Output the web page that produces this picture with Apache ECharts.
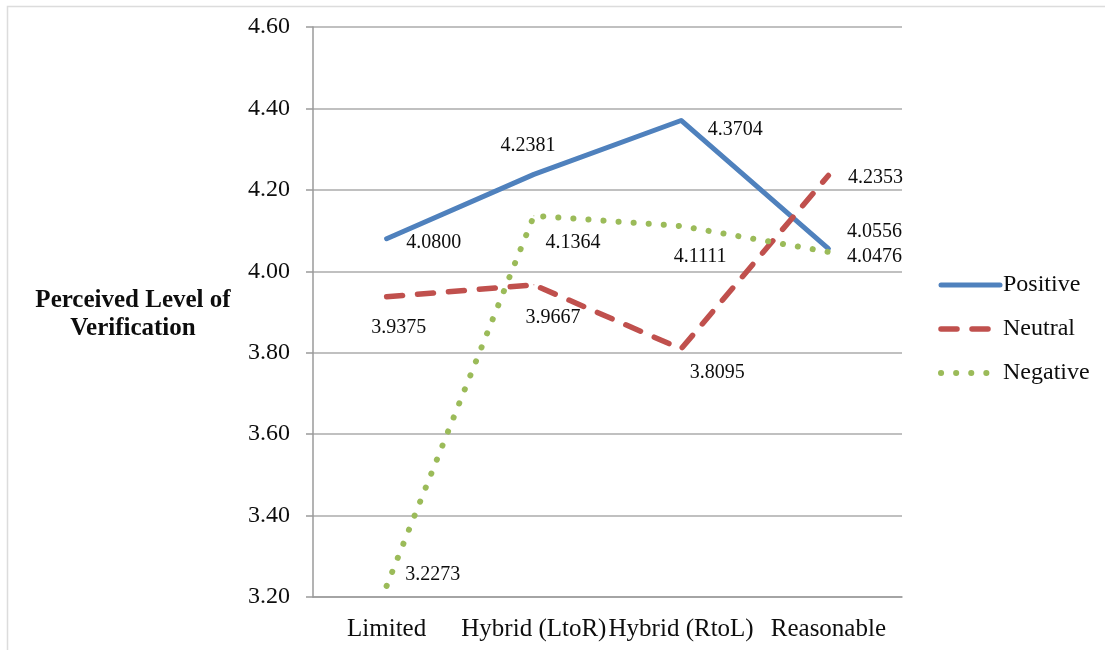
<!DOCTYPE html>
<html>
<head>
<meta charset="utf-8">
<script src="https://cdn.jsdelivr.net/npm/echarts@6/dist/echarts.min.js"></script>
<style>
  html, body { margin: 0; padding: 0; background: #ffffff; }
  #chart { width: 1105px; height: 650px; }
</style>
</head>
<body>
<div id="chart"></div>
<script>
// Perceived level of verification by presentation format
const categories = ['Limited', 'Hybrid (LtoR)', 'Hybrid (RtoL)', 'Reasonable'];
const positive = [4.0800, 4.2381, 4.3704, 4.0556];
const neutral  = [3.9375, 3.9667, 3.8095, 4.2353];
const negative = [3.2273, 4.1364, 4.1111, 4.0476];
const yTicks = { min: 3.2, max: 4.6, interval: 0.2 };
const yTitle = 'Perceived Level of\nVerification';

// label offsets (px) from each point, per series
const posLabelOffsets = [[47, 4], [-6, -29], [54, 9], [46, -17]];
const neuLabelOffsets = [[12, 31], [19, 33], [36, 24], [47, 2]];
const negLabelOffsets = [[46, -11], [39, 27], [19, 31], [46, 5]];

const SERIF = '"Liberation Serif", "DejaVu Serif", serif';
const TEXT = '#0d0d0d';

const styles = {
  Positive: { color: '#4F81BD', line: { width: 5, type: 'solid', cap: 'round', join: 'round' } },
  Neutral:  { color: '#C0504D', line: { width: 5.5, type: [16, 15], cap: 'round', join: 'round' } },
  Negative: { color: '#9BBB59', line: { width: 6, type: [0.1, 15], cap: 'round', join: 'round' } }
};

function withLabels(values, offsets) {
  return values.map((v, i) => ({
    value: v,
    label: { offset: offsets[i] }
  }));
}

function lineSeries(name, values, offsets) {
  const s = styles[name];
  return {
    name: name,
    type: 'line',
    data: withLabels(values, offsets),
    symbol: 'circle',
    symbolSize: 1,
    showSymbol: true,
    itemStyle: { color: s.color },
    lineStyle: Object.assign({ color: s.color }, s.line),
    label: {
      show: true,
      position: 'inside',
      formatter: p => p.value.toFixed(4),
      color: TEXT,
      fontFamily: SERIF,
      fontSize: 20
    },
    emphasis: { disabled: true },
    animation: false
  };
}

const chart = echarts.init(document.getElementById('chart'), null, { renderer: 'canvas' });

chart.setOption({
  backgroundColor: '#ffffff',
  animation: false,
  grid: { left: 313, right: 203, top: 27, bottom: 53 },
  xAxis: {
    type: 'category',
    data: categories,
    boundaryGap: true,
    axisLine: { lineStyle: { color: '#9a9a9a', width: 1.5 } },
    axisTick: { show: false },
    axisLabel: { color: TEXT, fontFamily: SERIF, fontSize: 25, margin: 20, interval: 0 }
  },
  yAxis: {
    type: 'value',
    min: yTicks.min,
    max: yTicks.max,
    interval: yTicks.interval,
    axisLine: { show: true, lineStyle: { color: '#9a9a9a', width: 1.5 } },
    axisTick: { show: true, length: 7, lineStyle: { color: '#9a9a9a', width: 1.5 } },
    axisLabel: {
      color: TEXT, fontFamily: SERIF, fontSize: 24, margin: 23,
      formatter: v => v.toFixed(2)
    },
    splitLine: { show: true, lineStyle: { color: '#ababab', width: 1.5 } }
  },
  legend: {
    orient: 'vertical',
    left: 938,
    top: 273,
    padding: 0,
    itemWidth: 59,
    itemHeight: 24,
    itemGap: 20,
    itemStyle: { opacity: 0 },
    textStyle: { color: TEXT, fontFamily: SERIF, fontSize: 24, padding: [0, 0, 0, -2] },
    data: ['Positive', 'Neutral', 'Negative'].map(n => ({
      name: n,
      lineStyle: Object.assign({ color: styles[n].color }, styles[n].line)
    }))
  },
  graphic: [
    {
      type: 'rect',
      silent: true,
      shape: { x: 7.5, y: 6.5, width: 1120, height: 700 },
      style: { fill: null, stroke: '#dcdcdc', lineWidth: 1.5 }
    },
    {
      type: 'text',
      silent: true,
      x: 133,
      y: 315,
      style: {
        text: yTitle,
        fontFamily: SERIF,
        fontWeight: 'bold',
        fontSize: 25,
        lineHeight: 28,
        fill: TEXT,
        align: 'center',
        verticalAlign: 'middle'
      }
    }
  ],
  series: [
    lineSeries('Positive', positive, posLabelOffsets),
    lineSeries('Neutral', neutral, neuLabelOffsets),
    lineSeries('Negative', negative, negLabelOffsets)
  ]
});
</script>
</body>
</html>
